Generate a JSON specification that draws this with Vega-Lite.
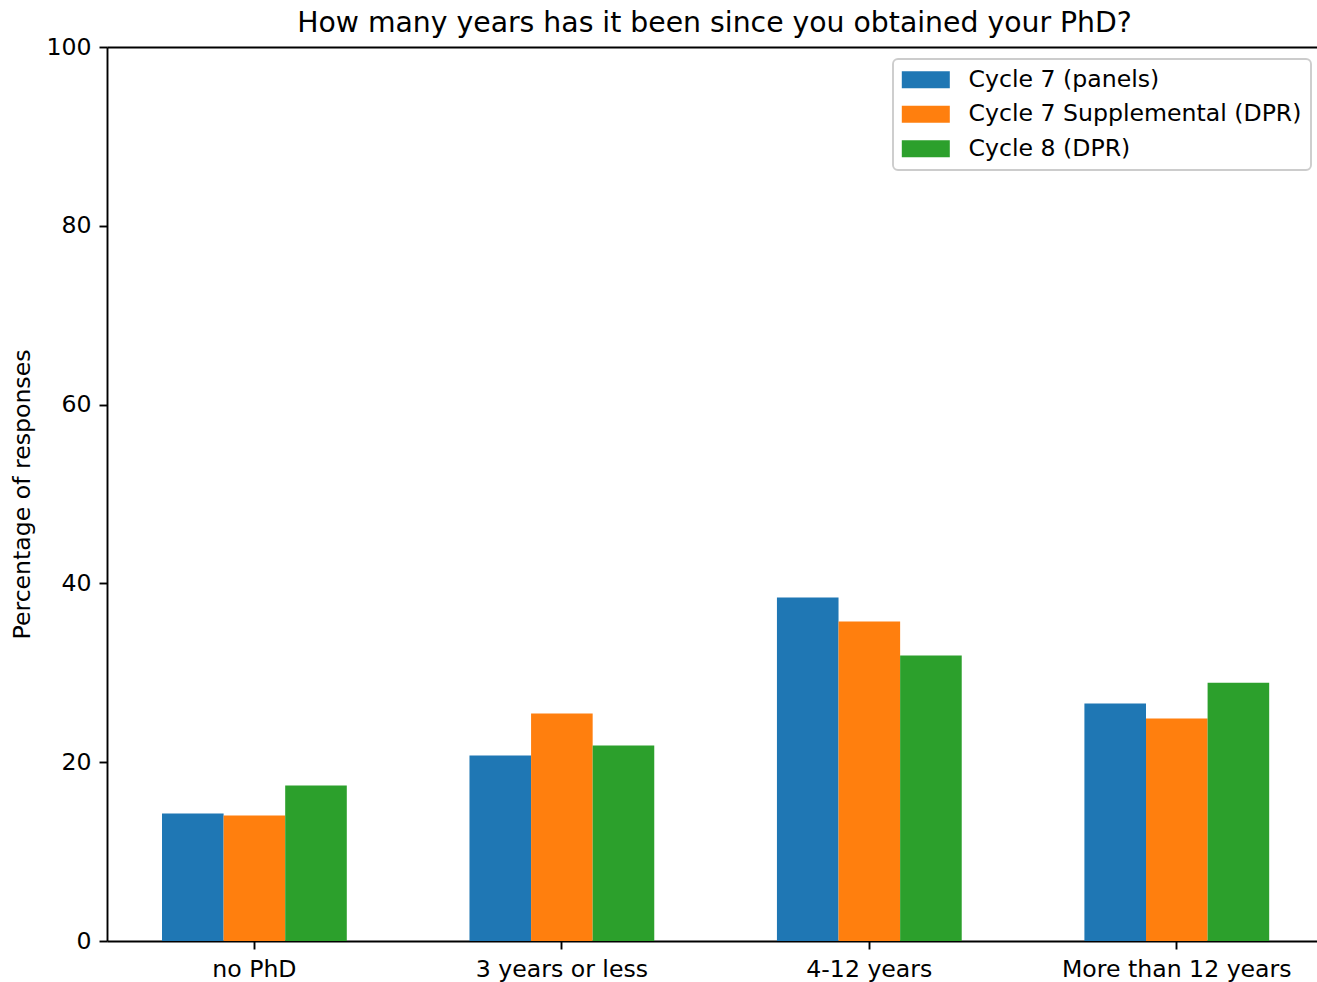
{
  "$schema": "https://vega.github.io/schema/vega-lite/v6.json",
  "width": 1210,
  "height": 894,
  "autosize": {"type": "none"},
  "padding": {"left": 107, "top": 47, "right": 0, "bottom": 41},
  "background": "white",
  "title": {
    "text": "How many years has it been since you obtained your PhD?",
    "font": "DejaVu Sans",
    "fontSize": 28.3,
    "fontWeight": "normal",
    "color": "black",
    "anchor": "middle",
    "offset": 14,
    "dx": 2.5,
    "dy": 17
  },
  "config": {
    "view": {"stroke": null},
    "font": "DejaVu Sans",
    "legend": {"strokeWidth": 1.9},
    "axis": {
      "labelFont": "DejaVu Sans",
      "labelFontSize": 23.6,
      "labelColor": "black",
      "labelLimit": 1000,
      "titleFont": "DejaVu Sans",
      "titleFontSize": 23.6,
      "titleFontWeight": "normal",
      "titleColor": "black",
      "domainColor": "black",
      "domainWidth": 1.9,
      "tickColor": "black",
      "tickWidth": 1.9,
      "tickSize": 8,
      "labelPadding": 8,
      "grid": false
    }
  },
  "data": {
    "values": [
      {"category": "no PhD", "series": "Cycle 7 (panels)", "value": 14.26},
      {"category": "no PhD", "series": "Cycle 7 Supplemental (DPR)", "value": 14.03},
      {"category": "no PhD", "series": "Cycle 8 (DPR)", "value": 17.39},
      {"category": "3 years or less", "series": "Cycle 7 (panels)", "value": 20.74},
      {"category": "3 years or less", "series": "Cycle 7 Supplemental (DPR)", "value": 25.44},
      {"category": "3 years or less", "series": "Cycle 8 (DPR)", "value": 21.86},
      {"category": "4-12 years", "series": "Cycle 7 (panels)", "value": 38.41},
      {"category": "4-12 years", "series": "Cycle 7 Supplemental (DPR)", "value": 35.73},
      {"category": "4-12 years", "series": "Cycle 8 (DPR)", "value": 31.93},
      {"category": "More than 12 years", "series": "Cycle 7 (panels)", "value": 26.56},
      {"category": "More than 12 years", "series": "Cycle 7 Supplemental (DPR)", "value": 24.88},
      {"category": "More than 12 years", "series": "Cycle 8 (DPR)", "value": 28.9}
    ]
  },
  "layer": [
    {
      "mark": {"type": "bar", "opacity": 1},
      "encoding": {
        "x": {
          "field": "category",
          "type": "nominal",
          "sort": null,
          "scale": {"paddingInner": 0.399, "paddingOuter": 0.1672, "align": 0.535},
          "axis": {"title": null, "labelAngle": 0, "orient": "bottom"}
        },
        "xOffset": {
          "field": "series",
          "type": "nominal",
          "sort": null,
          "scale": {"paddingInner": 0, "paddingOuter": 0}
        },
        "y": {
          "field": "value",
          "type": "quantitative",
          "scale": {"domain": [0, 100], "nice": false, "zero": true},
          "axis": {"title": "Percentage of responses", "values": [0, 20, 40, 60, 80, 100], "titlePadding": 11}
        },
        "color": {
          "field": "series",
          "type": "nominal",
          "sort": null,
          "scale": {
            "domain": ["Cycle 7 (panels)", "Cycle 7 Supplemental (DPR)", "Cycle 8 (DPR)"],
            "range": ["#1f77b4", "#ff7f0e", "#2ca02c"]
          },
          "legend": {
            "title": null,
            "orient": "none",
            "legendX": 786,
            "legendY": 12,
            "symbolType": "M-1.2,-0.85H3.6V0.85H-1.2Z",
            "symbolSize": 400,
            "symbolStrokeWidth": 0,
            "symbolOpacity": 1,
            "labelFont": "DejaVu Sans",
            "labelFontSize": 23.6,
            "labelColor": "black",
            "labelOffset": 43,
            "labelLimit": 1000,
            "padding": 9,
            "rowPadding": 9.5,
            "fillColor": "rgba(255,255,255,0.8)",
            "strokeColor": "#cccccc",
            "cornerRadius": 5
          }
        }
      }
    },
    {
      "mark": {"type": "rule", "opacity": 0},
      "encoding": {
        "x": {
          "field": "category",
          "type": "nominal",
          "sort": null,
          "axis": {"orient": "top", "title": null, "labels": false, "ticks": false, "domain": true}
        }
      }
    }
  ],
  "resolve": {"axis": {"x": "independent"}}
}
